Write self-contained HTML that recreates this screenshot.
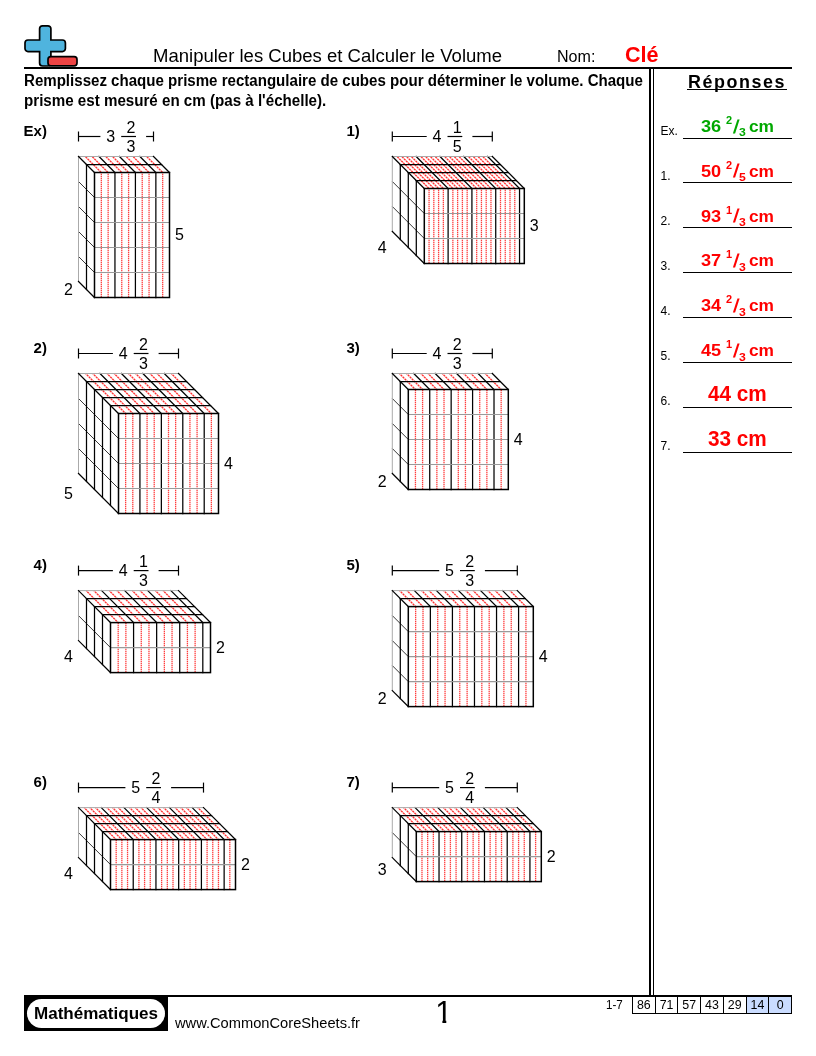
<!DOCTYPE html>
<html lang="fr">
<head>
<meta charset="utf-8">
<title>Manipuler les Cubes et Calculer le Volume</title>
<style>
html,body{margin:0;padding:0;background:#fff;}
body{width:816px;height:1056px;position:relative;overflow:hidden;font-family:"Liberation Sans", sans-serif;color:#000;}
.t{position:absolute;white-space:nowrap;line-height:1;transform-origin:0 0;}
.ln{position:absolute;background:#000;}
svg{position:absolute;left:0;top:0;overflow:visible;}
svg text{font-family:"Liberation Sans", sans-serif;fill:#000;}
.b{stroke:#000;stroke-width:1.25;stroke-linecap:square;}
.o{stroke-width:1.5;}
line.t{stroke:#222;stroke-width:0.9;}
.k{stroke:#aaa;stroke-width:1.0;}
.g{stroke:#9a9a9a;stroke-width:1.15;}
.r{stroke:#ff0000;stroke-width:1.3;stroke-dasharray:1 1;stroke-opacity:1;}
.rd{stroke-width:1.3;stroke-dasharray:2.2 0.63;stroke-opacity:0.8;}
.d{stroke:#000;stroke-width:1.2;}
.fill{fill:#fff;stroke:none;}
text.w{font-size:16.0px;}
text.fr{font-size:16.0px;}
text.s{font-size:16.0px;}

.sc{position:absolute;top:995px;height:19px;box-sizing:border-box;border:1px solid #000;font-size:12.4px;text-align:center;line-height:19.6px;}
</style>
</head>
<body>
<header>
<svg width="100" height="70" viewBox="0 0 100 70" aria-hidden="true"><path d="M42.6 25.8h5.3a3 3 0 0 1 3 3v11.2h11.5a3 3 0 0 1 3 3v5.6a3 3 0 0 1-3 3h-11.5v11.4a3 3 0 0 1-3 3h-5.3a3 3 0 0 1-3-3v-11.4h-11.6a3 3 0 0 1-3-3v-5.6a3 3 0 0 1 3-3h11.6v-11.2a3 3 0 0 1 3-3z" fill="#4fb4de" stroke="#000" stroke-width="1.7"/><rect x="48" y="56.6" width="29" height="9.2" rx="2.8" fill="#ee4444" stroke="#000" stroke-width="1.7"/></svg>
<span id="title" class="t" style="left:153.35px;top:47.3px;font-size:18.67px;font-weight:400;color:#000;transform:scaleX(0.9929);">Manipuler les Cubes et Calculer le Volume</span>
<span id="nom" class="t" style="left:556.9px;top:49px;font-size:16px;font-weight:400;color:#000;transform:scaleX(1.0043);">Nom:</span>
<span id="cle" class="t" style="left:624.7px;top:45.01px;font-size:21.33px;font-weight:700;color:#f00;transform:scaleX(1.0120);">Clé</span>
<div class="ln" style="left:24px;top:67px;width:768px;height:2px"></div>
</header>
<section>
<span id="ins1" class="t" style="left:24px;top:73px;font-size:16px;font-weight:700;color:#000;transform:scaleX(0.9419);">Remplissez chaque prisme rectangulaire de cubes pour déterminer le volume. Chaque</span>
<span id="ins2" class="t" style="left:24px;top:93px;font-size:16px;font-weight:700;color:#000;transform:scaleX(0.9461);">prisme est mesuré en cm (pas à l'échelle).</span>
</section>
<main>
<div class="problem">
<span id="pEx" class="t" style="left:24.2px;top:123.31px;font-size:15px;font-weight:700;color:#000;left:auto;right:769.1px;">Ex)</span>
<svg style="left:56px;top:110px" width="270" height="216" viewBox="56 110 270 216">
<polygon class="fill" points="78.5,156.5 153.5,156.5 169.5,172.5 169.5,297.5 94.5,297.5 78.5,281.5"/>
<line class="r" x1="101.32" y1="172.25" x2="101.32" y2="297.5"/>
<line class="r rd" x1="101.07" y1="172.25" x2="85.32" y2="156.5"/>
<line class="r" x1="108.14" y1="172.25" x2="108.14" y2="297.5"/>
<line class="r rd" x1="107.89" y1="172.25" x2="92.14" y2="156.5"/>
<line class="r" x1="121.77" y1="172.25" x2="121.77" y2="297.5"/>
<line class="r rd" x1="121.52" y1="172.25" x2="105.77" y2="156.5"/>
<line class="r" x1="128.59" y1="172.25" x2="128.59" y2="297.5"/>
<line class="r rd" x1="128.34" y1="172.25" x2="112.59" y2="156.5"/>
<line class="r" x1="142.23" y1="172.25" x2="142.23" y2="297.5"/>
<line class="r rd" x1="141.98" y1="172.25" x2="126.23" y2="156.5"/>
<line class="r" x1="149.05" y1="172.25" x2="149.05" y2="297.5"/>
<line class="r rd" x1="148.8" y1="172.25" x2="133.05" y2="156.5"/>
<line class="r" x1="162.68" y1="172.25" x2="162.68" y2="297.5"/>
<line class="r rd" x1="162.43" y1="172.25" x2="146.68" y2="156.5"/>
<line class="t" x1="78.5" y1="181.5" x2="94.5" y2="197.5"/>
<line class="t" x1="78.5" y1="206.5" x2="94.5" y2="222.5"/>
<line class="t" x1="78.5" y1="231.5" x2="94.5" y2="247.5"/>
<line class="t" x1="78.5" y1="256.5" x2="94.5" y2="272.5"/>
<line class="b" x1="86.5" y1="164.5" x2="86.5" y2="289.5"/>
<line class="b" x1="86.5" y1="164.5" x2="161.5" y2="164.5"/>
<line class="b" x1="114.95" y1="172.5" x2="114.95" y2="297.5"/>
<line class="b" x1="114.95" y1="172.5" x2="98.95" y2="156.5"/>
<line class="b" x1="135.41" y1="172.5" x2="135.41" y2="297.5"/>
<line class="b" x1="135.41" y1="172.5" x2="119.41" y2="156.5"/>
<line class="b" x1="155.86" y1="172.5" x2="155.86" y2="297.5"/>
<line class="b" x1="155.86" y1="172.5" x2="139.86" y2="156.5"/>
<line class="g" x1="94.5" y1="197.5" x2="169.5" y2="197.5"/>
<line class="g" x1="94.5" y1="222.5" x2="169.5" y2="222.5"/>
<line class="g" x1="94.5" y1="247.5" x2="169.5" y2="247.5"/>
<line class="g" x1="94.5" y1="272.5" x2="169.5" y2="272.5"/>
<line class="k" x1="78.5" y1="156.5" x2="153.5" y2="156.5"/>
<line class="k" x1="78.5" y1="156.5" x2="78.5" y2="281.5"/>
<line class="b" x1="78.5" y1="156.5" x2="94.5" y2="172.5"/>
<line class="b" x1="153.5" y1="156.5" x2="169.5" y2="172.5"/>
<line class="b" x1="78.5" y1="281.5" x2="94.5" y2="297.5"/>
<rect class="b o" x="94.5" y="172.5" width="75" height="125" fill="none"/>
<line class="d" x1="78.5" y1="136.5" x2="100.4" y2="136.5"/>
<line class="d" x1="146.1" y1="136.5" x2="153.5" y2="136.5"/>
<line class="d" x1="78.5" y1="131.5" x2="78.5" y2="141.5"/>
<line class="d" x1="153.5" y1="131.5" x2="153.5" y2="141.5"/>
<text class="w" x="106.3" y="141.8">3</text>
<line class="d" x1="121.2" y1="136.5" x2="136" y2="136.5"/>
<text class="fr" text-anchor="middle" x="131" y="132.7">2</text>
<text class="fr" text-anchor="middle" x="131" y="151.8">3</text>
<text class="s" x="174.9" y="240">5</text>
<text class="s" text-anchor="end" x="72.8" y="294.7">2</text>
</svg>
</div>
<div class="problem">
<span id="p1" class="t" style="left:346.5px;top:123.31px;font-size:15px;font-weight:700;color:#000;">1)</span>
<svg style="left:370px;top:110px" width="270" height="216" viewBox="370 110 270 216">
<polygon class="fill" points="392.3,156.5 492.3,156.5 524.3,188.5 524.3,263.5 424.3,263.5 392.3,231.5"/>
<line class="r" x1="429.06" y1="188.25" x2="429.06" y2="263.5"/>
<line class="r rd" x1="428.81" y1="188.25" x2="397.06" y2="156.5"/>
<line class="r" x1="433.82" y1="188.25" x2="433.82" y2="263.5"/>
<line class="r rd" x1="433.57" y1="188.25" x2="401.82" y2="156.5"/>
<line class="r" x1="438.59" y1="188.25" x2="438.59" y2="263.5"/>
<line class="r rd" x1="438.34" y1="188.25" x2="406.59" y2="156.5"/>
<line class="r" x1="443.35" y1="188.25" x2="443.35" y2="263.5"/>
<line class="r rd" x1="443.1" y1="188.25" x2="411.35" y2="156.5"/>
<line class="r" x1="452.87" y1="188.25" x2="452.87" y2="263.5"/>
<line class="r rd" x1="452.62" y1="188.25" x2="420.87" y2="156.5"/>
<line class="r" x1="457.63" y1="188.25" x2="457.63" y2="263.5"/>
<line class="r rd" x1="457.38" y1="188.25" x2="425.63" y2="156.5"/>
<line class="r" x1="462.4" y1="188.25" x2="462.4" y2="263.5"/>
<line class="r rd" x1="462.15" y1="188.25" x2="430.4" y2="156.5"/>
<line class="r" x1="467.16" y1="188.25" x2="467.16" y2="263.5"/>
<line class="r rd" x1="466.91" y1="188.25" x2="435.16" y2="156.5"/>
<line class="r" x1="476.68" y1="188.25" x2="476.68" y2="263.5"/>
<line class="r rd" x1="476.43" y1="188.25" x2="444.68" y2="156.5"/>
<line class="r" x1="481.44" y1="188.25" x2="481.44" y2="263.5"/>
<line class="r rd" x1="481.19" y1="188.25" x2="449.44" y2="156.5"/>
<line class="r" x1="486.2" y1="188.25" x2="486.2" y2="263.5"/>
<line class="r rd" x1="485.95" y1="188.25" x2="454.2" y2="156.5"/>
<line class="r" x1="490.97" y1="188.25" x2="490.97" y2="263.5"/>
<line class="r rd" x1="490.72" y1="188.25" x2="458.97" y2="156.5"/>
<line class="r" x1="500.49" y1="188.25" x2="500.49" y2="263.5"/>
<line class="r rd" x1="500.24" y1="188.25" x2="468.49" y2="156.5"/>
<line class="r" x1="505.25" y1="188.25" x2="505.25" y2="263.5"/>
<line class="r rd" x1="505" y1="188.25" x2="473.25" y2="156.5"/>
<line class="r" x1="510.01" y1="188.25" x2="510.01" y2="263.5"/>
<line class="r rd" x1="509.76" y1="188.25" x2="478.01" y2="156.5"/>
<line class="r" x1="514.78" y1="188.25" x2="514.78" y2="263.5"/>
<line class="r rd" x1="514.53" y1="188.25" x2="482.78" y2="156.5"/>
<line class="t" x1="392.3" y1="181.5" x2="424.3" y2="213.5"/>
<line class="t" x1="392.3" y1="206.5" x2="424.3" y2="238.5"/>
<line class="b" x1="400.3" y1="164.5" x2="400.3" y2="239.5"/>
<line class="b" x1="400.3" y1="164.5" x2="500.3" y2="164.5"/>
<line class="b" x1="408.3" y1="172.5" x2="408.3" y2="247.5"/>
<line class="b" x1="408.3" y1="172.5" x2="508.3" y2="172.5"/>
<line class="b" x1="416.3" y1="180.5" x2="416.3" y2="255.5"/>
<line class="b" x1="416.3" y1="180.5" x2="516.3" y2="180.5"/>
<line class="b" x1="448.11" y1="188.5" x2="448.11" y2="263.5"/>
<line class="b" x1="448.11" y1="188.5" x2="416.11" y2="156.5"/>
<line class="b" x1="471.92" y1="188.5" x2="471.92" y2="263.5"/>
<line class="b" x1="471.92" y1="188.5" x2="439.92" y2="156.5"/>
<line class="b" x1="495.73" y1="188.5" x2="495.73" y2="263.5"/>
<line class="b" x1="495.73" y1="188.5" x2="463.73" y2="156.5"/>
<line class="b" x1="519.54" y1="188.5" x2="519.54" y2="263.5"/>
<line class="b" x1="519.54" y1="188.5" x2="487.54" y2="156.5"/>
<line class="g" x1="424.3" y1="213.5" x2="524.3" y2="213.5"/>
<line class="g" x1="424.3" y1="238.5" x2="524.3" y2="238.5"/>
<line class="k" x1="392.3" y1="156.5" x2="492.3" y2="156.5"/>
<line class="k" x1="392.3" y1="156.5" x2="392.3" y2="231.5"/>
<line class="b" x1="392.3" y1="156.5" x2="424.3" y2="188.5"/>
<line class="b" x1="492.3" y1="156.5" x2="524.3" y2="188.5"/>
<line class="b" x1="392.3" y1="231.5" x2="424.3" y2="263.5"/>
<rect class="b o" x="424.3" y="188.5" width="100" height="75" fill="none"/>
<line class="d" x1="392.3" y1="136.5" x2="426.7" y2="136.5"/>
<line class="d" x1="472.4" y1="136.5" x2="492.3" y2="136.5"/>
<line class="d" x1="392.3" y1="131.5" x2="392.3" y2="141.5"/>
<line class="d" x1="492.3" y1="131.5" x2="492.3" y2="141.5"/>
<text class="w" x="432.6" y="141.8">4</text>
<line class="d" x1="447.5" y1="136.5" x2="462.3" y2="136.5"/>
<text class="fr" text-anchor="middle" x="457.3" y="132.7">1</text>
<text class="fr" text-anchor="middle" x="457.3" y="151.8">5</text>
<text class="s" x="529.7" y="231">3</text>
<text class="s" text-anchor="end" x="386.6" y="252.7">4</text>
</svg>
</div>
<div class="problem">
<span id="p2" class="t" style="left:24.2px;top:340.31px;font-size:15px;font-weight:700;color:#000;left:auto;right:769.1px;">2)</span>
<svg style="left:56px;top:327px" width="270" height="216" viewBox="56 327 270 216">
<polygon class="fill" points="78.5,373.5 178.5,373.5 218.5,413.5 218.5,513.5 118.5,513.5 78.5,473.5"/>
<line class="r" x1="125.64" y1="414.25" x2="125.64" y2="513.5"/>
<line class="r rd" x1="126.39" y1="414.25" x2="85.64" y2="373.5"/>
<line class="r" x1="132.79" y1="414.25" x2="132.79" y2="513.5"/>
<line class="r rd" x1="133.54" y1="414.25" x2="92.79" y2="373.5"/>
<line class="r" x1="147.07" y1="414.25" x2="147.07" y2="513.5"/>
<line class="r rd" x1="147.82" y1="414.25" x2="107.07" y2="373.5"/>
<line class="r" x1="154.21" y1="414.25" x2="154.21" y2="513.5"/>
<line class="r rd" x1="154.96" y1="414.25" x2="114.21" y2="373.5"/>
<line class="r" x1="168.5" y1="414.25" x2="168.5" y2="513.5"/>
<line class="r rd" x1="169.25" y1="414.25" x2="128.5" y2="373.5"/>
<line class="r" x1="175.64" y1="414.25" x2="175.64" y2="513.5"/>
<line class="r rd" x1="176.39" y1="414.25" x2="135.64" y2="373.5"/>
<line class="r" x1="189.93" y1="414.25" x2="189.93" y2="513.5"/>
<line class="r rd" x1="190.68" y1="414.25" x2="149.93" y2="373.5"/>
<line class="r" x1="197.07" y1="414.25" x2="197.07" y2="513.5"/>
<line class="r rd" x1="197.82" y1="414.25" x2="157.07" y2="373.5"/>
<line class="r" x1="211.36" y1="414.25" x2="211.36" y2="513.5"/>
<line class="r rd" x1="212.11" y1="414.25" x2="171.36" y2="373.5"/>
<line class="t" x1="78.5" y1="398.5" x2="118.5" y2="438.5"/>
<line class="t" x1="78.5" y1="423.5" x2="118.5" y2="463.5"/>
<line class="t" x1="78.5" y1="448.5" x2="118.5" y2="488.5"/>
<line class="b" x1="86.5" y1="381.5" x2="86.5" y2="481.5"/>
<line class="b" x1="86.5" y1="381.5" x2="186.5" y2="381.5"/>
<line class="b" x1="94.5" y1="389.5" x2="94.5" y2="489.5"/>
<line class="b" x1="94.5" y1="389.5" x2="194.5" y2="389.5"/>
<line class="b" x1="102.5" y1="397.5" x2="102.5" y2="497.5"/>
<line class="b" x1="102.5" y1="397.5" x2="202.5" y2="397.5"/>
<line class="b" x1="110.5" y1="405.5" x2="110.5" y2="505.5"/>
<line class="b" x1="110.5" y1="405.5" x2="210.5" y2="405.5"/>
<line class="b" x1="139.93" y1="413.5" x2="139.93" y2="513.5"/>
<line class="b" x1="139.93" y1="413.5" x2="99.93" y2="373.5"/>
<line class="b" x1="161.36" y1="413.5" x2="161.36" y2="513.5"/>
<line class="b" x1="161.36" y1="413.5" x2="121.36" y2="373.5"/>
<line class="b" x1="182.79" y1="413.5" x2="182.79" y2="513.5"/>
<line class="b" x1="182.79" y1="413.5" x2="142.79" y2="373.5"/>
<line class="b" x1="204.21" y1="413.5" x2="204.21" y2="513.5"/>
<line class="b" x1="204.21" y1="413.5" x2="164.21" y2="373.5"/>
<line class="g" x1="118.5" y1="438.5" x2="218.5" y2="438.5"/>
<line class="g" x1="118.5" y1="463.5" x2="218.5" y2="463.5"/>
<line class="g" x1="118.5" y1="488.5" x2="218.5" y2="488.5"/>
<line class="k" x1="78.5" y1="373.5" x2="178.5" y2="373.5"/>
<line class="k" x1="78.5" y1="373.5" x2="78.5" y2="473.5"/>
<line class="b" x1="78.5" y1="373.5" x2="118.5" y2="413.5"/>
<line class="b" x1="178.5" y1="373.5" x2="218.5" y2="413.5"/>
<line class="b" x1="78.5" y1="473.5" x2="118.5" y2="513.5"/>
<rect class="b o" x="118.5" y="413.5" width="100" height="100" fill="none"/>
<line class="d" x1="78.5" y1="353.5" x2="112.9" y2="353.5"/>
<line class="d" x1="158.6" y1="353.5" x2="178.5" y2="353.5"/>
<line class="d" x1="78.5" y1="348.5" x2="78.5" y2="358.5"/>
<line class="d" x1="178.5" y1="348.5" x2="178.5" y2="358.5"/>
<text class="w" x="118.8" y="358.8">4</text>
<line class="d" x1="133.7" y1="353.5" x2="148.5" y2="353.5"/>
<text class="fr" text-anchor="middle" x="143.5" y="349.7">2</text>
<text class="fr" text-anchor="middle" x="143.5" y="368.8">3</text>
<text class="s" x="223.9" y="468.5">4</text>
<text class="s" text-anchor="end" x="72.8" y="498.7">5</text>
</svg>
</div>
<div class="problem">
<span id="p3" class="t" style="left:346.5px;top:340.31px;font-size:15px;font-weight:700;color:#000;">3)</span>
<svg style="left:370px;top:327px" width="270" height="216" viewBox="370 327 270 216">
<polygon class="fill" points="392.3,373.5 492.3,373.5 508.3,389.5 508.3,489.5 408.3,489.5 392.3,473.5"/>
<line class="r" x1="415.44" y1="390.25" x2="415.44" y2="489.5"/>
<line class="r rd" x1="416.19" y1="390.25" x2="399.44" y2="373.5"/>
<line class="r" x1="422.59" y1="390.25" x2="422.59" y2="489.5"/>
<line class="r rd" x1="423.34" y1="390.25" x2="406.59" y2="373.5"/>
<line class="r" x1="436.87" y1="390.25" x2="436.87" y2="489.5"/>
<line class="r rd" x1="437.62" y1="390.25" x2="420.87" y2="373.5"/>
<line class="r" x1="444.01" y1="390.25" x2="444.01" y2="489.5"/>
<line class="r rd" x1="444.76" y1="390.25" x2="428.01" y2="373.5"/>
<line class="r" x1="458.3" y1="390.25" x2="458.3" y2="489.5"/>
<line class="r rd" x1="459.05" y1="390.25" x2="442.3" y2="373.5"/>
<line class="r" x1="465.44" y1="390.25" x2="465.44" y2="489.5"/>
<line class="r rd" x1="466.19" y1="390.25" x2="449.44" y2="373.5"/>
<line class="r" x1="479.73" y1="390.25" x2="479.73" y2="489.5"/>
<line class="r rd" x1="480.48" y1="390.25" x2="463.73" y2="373.5"/>
<line class="r" x1="486.87" y1="390.25" x2="486.87" y2="489.5"/>
<line class="r rd" x1="487.62" y1="390.25" x2="470.87" y2="373.5"/>
<line class="r" x1="501.16" y1="390.25" x2="501.16" y2="489.5"/>
<line class="r rd" x1="501.91" y1="390.25" x2="485.16" y2="373.5"/>
<line class="t" x1="392.3" y1="398.5" x2="408.3" y2="414.5"/>
<line class="t" x1="392.3" y1="423.5" x2="408.3" y2="439.5"/>
<line class="t" x1="392.3" y1="448.5" x2="408.3" y2="464.5"/>
<line class="b" x1="400.3" y1="381.5" x2="400.3" y2="481.5"/>
<line class="b" x1="400.3" y1="381.5" x2="500.3" y2="381.5"/>
<line class="b" x1="429.73" y1="389.5" x2="429.73" y2="489.5"/>
<line class="b" x1="429.73" y1="389.5" x2="413.73" y2="373.5"/>
<line class="b" x1="451.16" y1="389.5" x2="451.16" y2="489.5"/>
<line class="b" x1="451.16" y1="389.5" x2="435.16" y2="373.5"/>
<line class="b" x1="472.59" y1="389.5" x2="472.59" y2="489.5"/>
<line class="b" x1="472.59" y1="389.5" x2="456.59" y2="373.5"/>
<line class="b" x1="494.01" y1="389.5" x2="494.01" y2="489.5"/>
<line class="b" x1="494.01" y1="389.5" x2="478.01" y2="373.5"/>
<line class="g" x1="408.3" y1="414.5" x2="508.3" y2="414.5"/>
<line class="g" x1="408.3" y1="439.5" x2="508.3" y2="439.5"/>
<line class="g" x1="408.3" y1="464.5" x2="508.3" y2="464.5"/>
<line class="k" x1="392.3" y1="373.5" x2="492.3" y2="373.5"/>
<line class="k" x1="392.3" y1="373.5" x2="392.3" y2="473.5"/>
<line class="b" x1="392.3" y1="373.5" x2="408.3" y2="389.5"/>
<line class="b" x1="492.3" y1="373.5" x2="508.3" y2="389.5"/>
<line class="b" x1="392.3" y1="473.5" x2="408.3" y2="489.5"/>
<rect class="b o" x="408.3" y="389.5" width="100" height="100" fill="none"/>
<line class="d" x1="392.3" y1="353.5" x2="426.7" y2="353.5"/>
<line class="d" x1="472.4" y1="353.5" x2="492.3" y2="353.5"/>
<line class="d" x1="392.3" y1="348.5" x2="392.3" y2="358.5"/>
<line class="d" x1="492.3" y1="348.5" x2="492.3" y2="358.5"/>
<text class="w" x="432.6" y="358.8">4</text>
<line class="d" x1="447.5" y1="353.5" x2="462.3" y2="353.5"/>
<text class="fr" text-anchor="middle" x="457.3" y="349.7">2</text>
<text class="fr" text-anchor="middle" x="457.3" y="368.8">3</text>
<text class="s" x="513.7" y="444.5">4</text>
<text class="s" text-anchor="end" x="386.6" y="486.7">2</text>
</svg>
</div>
<div class="problem">
<span id="p4" class="t" style="left:24.2px;top:557.41px;font-size:15px;font-weight:700;color:#000;left:auto;right:769.1px;">4)</span>
<svg style="left:56px;top:544px" width="270" height="216" viewBox="56 544 270 216">
<polygon class="fill" points="78.5,590.6 178.5,590.6 210.5,622.6 210.5,672.6 110.5,672.6 78.5,640.6"/>
<line class="r" x1="118.19" y1="623.25" x2="118.19" y2="672.6"/>
<line class="r rd" x1="118.84" y1="623.25" x2="86.19" y2="590.6"/>
<line class="r" x1="125.88" y1="623.25" x2="125.88" y2="672.6"/>
<line class="r rd" x1="126.53" y1="623.25" x2="93.88" y2="590.6"/>
<line class="r" x1="141.27" y1="623.25" x2="141.27" y2="672.6"/>
<line class="r rd" x1="141.92" y1="623.25" x2="109.27" y2="590.6"/>
<line class="r" x1="148.96" y1="623.25" x2="148.96" y2="672.6"/>
<line class="r rd" x1="149.61" y1="623.25" x2="116.96" y2="590.6"/>
<line class="r" x1="164.35" y1="623.25" x2="164.35" y2="672.6"/>
<line class="r rd" x1="165" y1="623.25" x2="132.35" y2="590.6"/>
<line class="r" x1="172.04" y1="623.25" x2="172.04" y2="672.6"/>
<line class="r rd" x1="172.69" y1="623.25" x2="140.04" y2="590.6"/>
<line class="r" x1="187.42" y1="623.25" x2="187.42" y2="672.6"/>
<line class="r rd" x1="188.07" y1="623.25" x2="155.42" y2="590.6"/>
<line class="r" x1="195.12" y1="623.25" x2="195.12" y2="672.6"/>
<line class="r rd" x1="195.77" y1="623.25" x2="163.12" y2="590.6"/>
<line class="t" x1="78.5" y1="615.6" x2="110.5" y2="647.6"/>
<line class="b" x1="86.5" y1="598.6" x2="86.5" y2="648.6"/>
<line class="b" x1="86.5" y1="598.6" x2="186.5" y2="598.6"/>
<line class="b" x1="94.5" y1="606.6" x2="94.5" y2="656.6"/>
<line class="b" x1="94.5" y1="606.6" x2="194.5" y2="606.6"/>
<line class="b" x1="102.5" y1="614.6" x2="102.5" y2="664.6"/>
<line class="b" x1="102.5" y1="614.6" x2="202.5" y2="614.6"/>
<line class="b" x1="133.58" y1="622.6" x2="133.58" y2="672.6"/>
<line class="b" x1="133.58" y1="622.6" x2="101.58" y2="590.6"/>
<line class="b" x1="156.65" y1="622.6" x2="156.65" y2="672.6"/>
<line class="b" x1="156.65" y1="622.6" x2="124.65" y2="590.6"/>
<line class="b" x1="179.73" y1="622.6" x2="179.73" y2="672.6"/>
<line class="b" x1="179.73" y1="622.6" x2="147.73" y2="590.6"/>
<line class="b" x1="202.81" y1="622.6" x2="202.81" y2="672.6"/>
<line class="b" x1="202.81" y1="622.6" x2="170.81" y2="590.6"/>
<line class="g" x1="110.5" y1="647.6" x2="210.5" y2="647.6"/>
<line class="k" x1="78.5" y1="590.6" x2="178.5" y2="590.6"/>
<line class="k" x1="78.5" y1="590.6" x2="78.5" y2="640.6"/>
<line class="b" x1="78.5" y1="590.6" x2="110.5" y2="622.6"/>
<line class="b" x1="178.5" y1="590.6" x2="210.5" y2="622.6"/>
<line class="b" x1="78.5" y1="640.6" x2="110.5" y2="672.6"/>
<rect class="b o" x="110.5" y="622.6" width="100" height="50" fill="none"/>
<line class="d" x1="78.5" y1="570.6" x2="112.9" y2="570.6"/>
<line class="d" x1="158.6" y1="570.6" x2="178.5" y2="570.6"/>
<line class="d" x1="78.5" y1="565.6" x2="78.5" y2="575.6"/>
<line class="d" x1="178.5" y1="565.6" x2="178.5" y2="575.6"/>
<text class="w" x="118.8" y="575.9">4</text>
<line class="d" x1="133.7" y1="570.6" x2="148.5" y2="570.6"/>
<text class="fr" text-anchor="middle" x="143.5" y="566.8">1</text>
<text class="fr" text-anchor="middle" x="143.5" y="585.9">3</text>
<text class="s" x="215.9" y="652.6">2</text>
<text class="s" text-anchor="end" x="72.8" y="661.8">4</text>
</svg>
</div>
<div class="problem">
<span id="p5" class="t" style="left:346.5px;top:557.41px;font-size:15px;font-weight:700;color:#000;">5)</span>
<svg style="left:370px;top:544px" width="270" height="216" viewBox="370 544 270 216">
<polygon class="fill" points="392.3,590.6 517.3,590.6 533.3,606.6 533.3,706.6 408.3,706.6 392.3,690.6"/>
<line class="r" x1="415.65" y1="607.25" x2="415.65" y2="706.6"/>
<line class="r rd" x1="416.3" y1="607.25" x2="399.65" y2="590.6"/>
<line class="r" x1="423.01" y1="607.25" x2="423.01" y2="706.6"/>
<line class="r rd" x1="423.66" y1="607.25" x2="407.01" y2="590.6"/>
<line class="r" x1="437.71" y1="607.25" x2="437.71" y2="706.6"/>
<line class="r rd" x1="438.36" y1="607.25" x2="421.71" y2="590.6"/>
<line class="r" x1="445.06" y1="607.25" x2="445.06" y2="706.6"/>
<line class="r rd" x1="445.71" y1="607.25" x2="429.06" y2="590.6"/>
<line class="r" x1="459.77" y1="607.25" x2="459.77" y2="706.6"/>
<line class="r rd" x1="460.42" y1="607.25" x2="443.77" y2="590.6"/>
<line class="r" x1="467.12" y1="607.25" x2="467.12" y2="706.6"/>
<line class="r rd" x1="467.77" y1="607.25" x2="451.12" y2="590.6"/>
<line class="r" x1="481.83" y1="607.25" x2="481.83" y2="706.6"/>
<line class="r rd" x1="482.48" y1="607.25" x2="465.83" y2="590.6"/>
<line class="r" x1="489.18" y1="607.25" x2="489.18" y2="706.6"/>
<line class="r rd" x1="489.83" y1="607.25" x2="473.18" y2="590.6"/>
<line class="r" x1="503.89" y1="607.25" x2="503.89" y2="706.6"/>
<line class="r rd" x1="504.54" y1="607.25" x2="487.89" y2="590.6"/>
<line class="r" x1="511.24" y1="607.25" x2="511.24" y2="706.6"/>
<line class="r rd" x1="511.89" y1="607.25" x2="495.24" y2="590.6"/>
<line class="r" x1="525.95" y1="607.25" x2="525.95" y2="706.6"/>
<line class="r rd" x1="526.6" y1="607.25" x2="509.95" y2="590.6"/>
<line class="t" x1="392.3" y1="615.6" x2="408.3" y2="631.6"/>
<line class="t" x1="392.3" y1="640.6" x2="408.3" y2="656.6"/>
<line class="t" x1="392.3" y1="665.6" x2="408.3" y2="681.6"/>
<line class="b" x1="400.3" y1="598.6" x2="400.3" y2="698.6"/>
<line class="b" x1="400.3" y1="598.6" x2="525.3" y2="598.6"/>
<line class="b" x1="430.36" y1="606.6" x2="430.36" y2="706.6"/>
<line class="b" x1="430.36" y1="606.6" x2="414.36" y2="590.6"/>
<line class="b" x1="452.42" y1="606.6" x2="452.42" y2="706.6"/>
<line class="b" x1="452.42" y1="606.6" x2="436.42" y2="590.6"/>
<line class="b" x1="474.48" y1="606.6" x2="474.48" y2="706.6"/>
<line class="b" x1="474.48" y1="606.6" x2="458.48" y2="590.6"/>
<line class="b" x1="496.54" y1="606.6" x2="496.54" y2="706.6"/>
<line class="b" x1="496.54" y1="606.6" x2="480.54" y2="590.6"/>
<line class="b" x1="518.59" y1="606.6" x2="518.59" y2="706.6"/>
<line class="b" x1="518.59" y1="606.6" x2="502.59" y2="590.6"/>
<line class="g" x1="408.3" y1="631.6" x2="533.3" y2="631.6"/>
<line class="g" x1="408.3" y1="656.6" x2="533.3" y2="656.6"/>
<line class="g" x1="408.3" y1="681.6" x2="533.3" y2="681.6"/>
<line class="k" x1="392.3" y1="590.6" x2="517.3" y2="590.6"/>
<line class="k" x1="392.3" y1="590.6" x2="392.3" y2="690.6"/>
<line class="b" x1="392.3" y1="590.6" x2="408.3" y2="606.6"/>
<line class="b" x1="517.3" y1="590.6" x2="533.3" y2="606.6"/>
<line class="b" x1="392.3" y1="690.6" x2="408.3" y2="706.6"/>
<rect class="b o" x="408.3" y="606.6" width="125" height="100" fill="none"/>
<line class="d" x1="392.3" y1="570.6" x2="439.2" y2="570.6"/>
<line class="d" x1="484.9" y1="570.6" x2="517.3" y2="570.6"/>
<line class="d" x1="392.3" y1="565.6" x2="392.3" y2="575.6"/>
<line class="d" x1="517.3" y1="565.6" x2="517.3" y2="575.6"/>
<text class="w" x="445.1" y="575.9">5</text>
<line class="d" x1="460" y1="570.6" x2="474.8" y2="570.6"/>
<text class="fr" text-anchor="middle" x="469.8" y="566.8">2</text>
<text class="fr" text-anchor="middle" x="469.8" y="585.9">3</text>
<text class="s" x="538.7" y="661.6">4</text>
<text class="s" text-anchor="end" x="386.6" y="703.8">2</text>
</svg>
</div>
<div class="problem">
<span id="p6" class="t" style="left:24.2px;top:774.41px;font-size:15px;font-weight:700;color:#000;left:auto;right:769.1px;">6)</span>
<svg style="left:56px;top:761px" width="270" height="216" viewBox="56 761 270 216">
<polygon class="fill" points="78.5,807.6 203.5,807.6 235.5,839.6 235.5,889.6 110.5,889.6 78.5,857.6"/>
<line class="r" x1="116.18" y1="840.25" x2="116.18" y2="889.6"/>
<line class="r rd" x1="116.83" y1="840.25" x2="84.18" y2="807.6"/>
<line class="r" x1="121.86" y1="840.25" x2="121.86" y2="889.6"/>
<line class="r rd" x1="122.51" y1="840.25" x2="89.86" y2="807.6"/>
<line class="r" x1="127.55" y1="840.25" x2="127.55" y2="889.6"/>
<line class="r rd" x1="128.2" y1="840.25" x2="95.55" y2="807.6"/>
<line class="r" x1="138.91" y1="840.25" x2="138.91" y2="889.6"/>
<line class="r rd" x1="139.56" y1="840.25" x2="106.91" y2="807.6"/>
<line class="r" x1="144.59" y1="840.25" x2="144.59" y2="889.6"/>
<line class="r rd" x1="145.24" y1="840.25" x2="112.59" y2="807.6"/>
<line class="r" x1="150.27" y1="840.25" x2="150.27" y2="889.6"/>
<line class="r rd" x1="150.92" y1="840.25" x2="118.27" y2="807.6"/>
<line class="r" x1="161.64" y1="840.25" x2="161.64" y2="889.6"/>
<line class="r rd" x1="162.29" y1="840.25" x2="129.64" y2="807.6"/>
<line class="r" x1="167.32" y1="840.25" x2="167.32" y2="889.6"/>
<line class="r rd" x1="167.97" y1="840.25" x2="135.32" y2="807.6"/>
<line class="r" x1="173" y1="840.25" x2="173" y2="889.6"/>
<line class="r rd" x1="173.65" y1="840.25" x2="141" y2="807.6"/>
<line class="r" x1="184.36" y1="840.25" x2="184.36" y2="889.6"/>
<line class="r rd" x1="185.01" y1="840.25" x2="152.36" y2="807.6"/>
<line class="r" x1="190.05" y1="840.25" x2="190.05" y2="889.6"/>
<line class="r rd" x1="190.7" y1="840.25" x2="158.05" y2="807.6"/>
<line class="r" x1="195.73" y1="840.25" x2="195.73" y2="889.6"/>
<line class="r rd" x1="196.38" y1="840.25" x2="163.73" y2="807.6"/>
<line class="r" x1="207.09" y1="840.25" x2="207.09" y2="889.6"/>
<line class="r rd" x1="207.74" y1="840.25" x2="175.09" y2="807.6"/>
<line class="r" x1="212.77" y1="840.25" x2="212.77" y2="889.6"/>
<line class="r rd" x1="213.42" y1="840.25" x2="180.77" y2="807.6"/>
<line class="r" x1="218.45" y1="840.25" x2="218.45" y2="889.6"/>
<line class="r rd" x1="219.1" y1="840.25" x2="186.45" y2="807.6"/>
<line class="r" x1="229.82" y1="840.25" x2="229.82" y2="889.6"/>
<line class="r rd" x1="230.47" y1="840.25" x2="197.82" y2="807.6"/>
<line class="t" x1="78.5" y1="832.6" x2="110.5" y2="864.6"/>
<line class="b" x1="86.5" y1="815.6" x2="86.5" y2="865.6"/>
<line class="b" x1="86.5" y1="815.6" x2="211.5" y2="815.6"/>
<line class="b" x1="94.5" y1="823.6" x2="94.5" y2="873.6"/>
<line class="b" x1="94.5" y1="823.6" x2="219.5" y2="823.6"/>
<line class="b" x1="102.5" y1="831.6" x2="102.5" y2="881.6"/>
<line class="b" x1="102.5" y1="831.6" x2="227.5" y2="831.6"/>
<line class="b" x1="133.23" y1="839.6" x2="133.23" y2="889.6"/>
<line class="b" x1="133.23" y1="839.6" x2="101.23" y2="807.6"/>
<line class="b" x1="155.95" y1="839.6" x2="155.95" y2="889.6"/>
<line class="b" x1="155.95" y1="839.6" x2="123.95" y2="807.6"/>
<line class="b" x1="178.68" y1="839.6" x2="178.68" y2="889.6"/>
<line class="b" x1="178.68" y1="839.6" x2="146.68" y2="807.6"/>
<line class="b" x1="201.41" y1="839.6" x2="201.41" y2="889.6"/>
<line class="b" x1="201.41" y1="839.6" x2="169.41" y2="807.6"/>
<line class="b" x1="224.14" y1="839.6" x2="224.14" y2="889.6"/>
<line class="b" x1="224.14" y1="839.6" x2="192.14" y2="807.6"/>
<line class="g" x1="110.5" y1="864.6" x2="235.5" y2="864.6"/>
<line class="k" x1="78.5" y1="807.6" x2="203.5" y2="807.6"/>
<line class="k" x1="78.5" y1="807.6" x2="78.5" y2="857.6"/>
<line class="b" x1="78.5" y1="807.6" x2="110.5" y2="839.6"/>
<line class="b" x1="203.5" y1="807.6" x2="235.5" y2="839.6"/>
<line class="b" x1="78.5" y1="857.6" x2="110.5" y2="889.6"/>
<rect class="b o" x="110.5" y="839.6" width="125" height="50" fill="none"/>
<line class="d" x1="78.5" y1="787.6" x2="125.4" y2="787.6"/>
<line class="d" x1="171.1" y1="787.6" x2="203.5" y2="787.6"/>
<line class="d" x1="78.5" y1="782.6" x2="78.5" y2="792.6"/>
<line class="d" x1="203.5" y1="782.6" x2="203.5" y2="792.6"/>
<text class="w" x="131.3" y="792.9">5</text>
<line class="d" x1="146.2" y1="787.6" x2="161" y2="787.6"/>
<text class="fr" text-anchor="middle" x="156" y="783.8">2</text>
<text class="fr" text-anchor="middle" x="156" y="802.9">4</text>
<text class="s" x="240.9" y="869.6">2</text>
<text class="s" text-anchor="end" x="72.8" y="878.8">4</text>
</svg>
</div>
<div class="problem">
<span id="p7" class="t" style="left:346.5px;top:774.41px;font-size:15px;font-weight:700;color:#000;">7)</span>
<svg style="left:370px;top:761px" width="270" height="216" viewBox="370 761 270 216">
<polygon class="fill" points="392.3,807.6 517.3,807.6 541.3,831.6 541.3,881.6 416.3,881.6 392.3,857.6"/>
<line class="r" x1="421.98" y1="832.25" x2="421.98" y2="881.6"/>
<line class="r rd" x1="422.63" y1="832.25" x2="397.98" y2="807.6"/>
<line class="r" x1="427.66" y1="832.25" x2="427.66" y2="881.6"/>
<line class="r rd" x1="428.31" y1="832.25" x2="403.66" y2="807.6"/>
<line class="r" x1="433.35" y1="832.25" x2="433.35" y2="881.6"/>
<line class="r rd" x1="434" y1="832.25" x2="409.35" y2="807.6"/>
<line class="r" x1="444.71" y1="832.25" x2="444.71" y2="881.6"/>
<line class="r rd" x1="445.36" y1="832.25" x2="420.71" y2="807.6"/>
<line class="r" x1="450.39" y1="832.25" x2="450.39" y2="881.6"/>
<line class="r rd" x1="451.04" y1="832.25" x2="426.39" y2="807.6"/>
<line class="r" x1="456.07" y1="832.25" x2="456.07" y2="881.6"/>
<line class="r rd" x1="456.72" y1="832.25" x2="432.07" y2="807.6"/>
<line class="r" x1="467.44" y1="832.25" x2="467.44" y2="881.6"/>
<line class="r rd" x1="468.09" y1="832.25" x2="443.44" y2="807.6"/>
<line class="r" x1="473.12" y1="832.25" x2="473.12" y2="881.6"/>
<line class="r rd" x1="473.77" y1="832.25" x2="449.12" y2="807.6"/>
<line class="r" x1="478.8" y1="832.25" x2="478.8" y2="881.6"/>
<line class="r rd" x1="479.45" y1="832.25" x2="454.8" y2="807.6"/>
<line class="r" x1="490.16" y1="832.25" x2="490.16" y2="881.6"/>
<line class="r rd" x1="490.81" y1="832.25" x2="466.16" y2="807.6"/>
<line class="r" x1="495.85" y1="832.25" x2="495.85" y2="881.6"/>
<line class="r rd" x1="496.5" y1="832.25" x2="471.85" y2="807.6"/>
<line class="r" x1="501.53" y1="832.25" x2="501.53" y2="881.6"/>
<line class="r rd" x1="502.18" y1="832.25" x2="477.53" y2="807.6"/>
<line class="r" x1="512.89" y1="832.25" x2="512.89" y2="881.6"/>
<line class="r rd" x1="513.54" y1="832.25" x2="488.89" y2="807.6"/>
<line class="r" x1="518.57" y1="832.25" x2="518.57" y2="881.6"/>
<line class="r rd" x1="519.22" y1="832.25" x2="494.57" y2="807.6"/>
<line class="r" x1="524.25" y1="832.25" x2="524.25" y2="881.6"/>
<line class="r rd" x1="524.9" y1="832.25" x2="500.25" y2="807.6"/>
<line class="r" x1="535.62" y1="832.25" x2="535.62" y2="881.6"/>
<line class="r rd" x1="536.27" y1="832.25" x2="511.62" y2="807.6"/>
<line class="t" x1="392.3" y1="832.6" x2="416.3" y2="856.6"/>
<line class="b" x1="400.3" y1="815.6" x2="400.3" y2="865.6"/>
<line class="b" x1="400.3" y1="815.6" x2="525.3" y2="815.6"/>
<line class="b" x1="408.3" y1="823.6" x2="408.3" y2="873.6"/>
<line class="b" x1="408.3" y1="823.6" x2="533.3" y2="823.6"/>
<line class="b" x1="439.03" y1="831.6" x2="439.03" y2="881.6"/>
<line class="b" x1="439.03" y1="831.6" x2="415.03" y2="807.6"/>
<line class="b" x1="461.75" y1="831.6" x2="461.75" y2="881.6"/>
<line class="b" x1="461.75" y1="831.6" x2="437.75" y2="807.6"/>
<line class="b" x1="484.48" y1="831.6" x2="484.48" y2="881.6"/>
<line class="b" x1="484.48" y1="831.6" x2="460.48" y2="807.6"/>
<line class="b" x1="507.21" y1="831.6" x2="507.21" y2="881.6"/>
<line class="b" x1="507.21" y1="831.6" x2="483.21" y2="807.6"/>
<line class="b" x1="529.94" y1="831.6" x2="529.94" y2="881.6"/>
<line class="b" x1="529.94" y1="831.6" x2="505.94" y2="807.6"/>
<line class="g" x1="416.3" y1="856.6" x2="541.3" y2="856.6"/>
<line class="k" x1="392.3" y1="807.6" x2="517.3" y2="807.6"/>
<line class="k" x1="392.3" y1="807.6" x2="392.3" y2="857.6"/>
<line class="b" x1="392.3" y1="807.6" x2="416.3" y2="831.6"/>
<line class="b" x1="517.3" y1="807.6" x2="541.3" y2="831.6"/>
<line class="b" x1="392.3" y1="857.6" x2="416.3" y2="881.6"/>
<rect class="b o" x="416.3" y="831.6" width="125" height="50" fill="none"/>
<line class="d" x1="392.3" y1="787.6" x2="439.2" y2="787.6"/>
<line class="d" x1="484.9" y1="787.6" x2="517.3" y2="787.6"/>
<line class="d" x1="392.3" y1="782.6" x2="392.3" y2="792.6"/>
<line class="d" x1="517.3" y1="782.6" x2="517.3" y2="792.6"/>
<text class="w" x="445.1" y="792.9">5</text>
<line class="d" x1="460" y1="787.6" x2="474.8" y2="787.6"/>
<text class="fr" text-anchor="middle" x="469.8" y="783.8">2</text>
<text class="fr" text-anchor="middle" x="469.8" y="802.9">4</text>
<text class="s" x="546.7" y="861.6">2</text>
<text class="s" text-anchor="end" x="386.6" y="874.8">3</text>
</svg>
</div>
</main>
<aside>
<div class="ln" style="left:649.1px;top:68px;width:2px;height:928px"></div>
<div class="ln" style="left:652.6px;top:68px;width:1.2px;height:928px"></div>
<span id="rep" class="t" style="left:688.4px;top:73.01px;font-size:18.67px;font-weight:700;color:#000;transform:scaleX(0.9601);letter-spacing:1.6px;">Réponses</span>
<div class="ln" style="left:687.3px;top:89px;width:99.4px;height:1px"></div>
<div class="ans">
<div class="ln" style="left:683px;top:138px;width:109px;height:1px"></div>
<span id="al0" class="t" style="left:660.5px;top:125.21px;font-size:12px;font-weight:400;color:#000;">Ex.</span>
<span id="a0w" class="t" style="left:700.6px;top:117.6px;font-size:17.3px;font-weight:700;color:#00a800;transform:scaleX(1.0502);">36</span>
<span id="a0u" class="t" style="left:725.8px;top:115.61px;font-size:10px;font-weight:700;color:#00a800;transform:scaleX(1.0966);">2</span>
<span id="a0s" class="t" style="left:733.1px;top:117.51px;font-size:18.5px;font-weight:700;color:#00a800;transform:skewX(-8deg);transform-origin:50% 70%;">/</span>
<span id="a0l" class="t" style="left:738.5px;top:128.02px;font-size:10px;font-weight:700;color:#00a800;transform:scaleX(1.2225);">3</span>
<span id="a0c" class="t" style="left:749px;top:117.6px;font-size:17.3px;font-weight:700;color:#00a800;transform:scaleX(1.0006);">cm</span>
</div>
<div class="ans">
<div class="ln" style="left:683px;top:182px;width:109px;height:1px"></div>
<span id="al1" class="t" style="left:660.5px;top:170.16px;font-size:12px;font-weight:400;color:#000;">1.</span>
<span id="a1w" class="t" style="left:700.6px;top:162.55px;font-size:17.3px;font-weight:700;color:#f00;transform:scaleX(1.0502);">50</span>
<span id="a1u" class="t" style="left:725.8px;top:160.56px;font-size:10px;font-weight:700;color:#f00;transform:scaleX(1.0966);">2</span>
<span id="a1s" class="t" style="left:733.1px;top:162.46px;font-size:18.5px;font-weight:700;color:#f00;transform:skewX(-8deg);transform-origin:50% 70%;">/</span>
<span id="a1l" class="t" style="left:738.5px;top:172.97px;font-size:10px;font-weight:700;color:#f00;transform:scaleX(1.2225);">5</span>
<span id="a1c" class="t" style="left:749px;top:162.55px;font-size:17.3px;font-weight:700;color:#f00;transform:scaleX(1.0006);">cm</span>
</div>
<div class="ans">
<div class="ln" style="left:683px;top:227px;width:109px;height:1px"></div>
<span id="al2" class="t" style="left:660.5px;top:215.1px;font-size:12px;font-weight:400;color:#000;">2.</span>
<span id="a2w" class="t" style="left:700.6px;top:207.5px;font-size:17.3px;font-weight:700;color:#f00;transform:scaleX(1.0502);">93</span>
<span id="a2u" class="t" style="left:725.8px;top:205.52px;font-size:10px;font-weight:700;color:#f00;transform:scaleX(1.0966);">1</span>
<span id="a2s" class="t" style="left:733.1px;top:207.41px;font-size:18.5px;font-weight:700;color:#f00;transform:skewX(-8deg);transform-origin:50% 70%;">/</span>
<span id="a2l" class="t" style="left:738.5px;top:217.9px;font-size:10px;font-weight:700;color:#f00;transform:scaleX(1.2225);">3</span>
<span id="a2c" class="t" style="left:749px;top:207.5px;font-size:17.3px;font-weight:700;color:#f00;transform:scaleX(1.0006);">cm</span>
</div>
<div class="ans">
<div class="ln" style="left:683px;top:272px;width:109px;height:1px"></div>
<span id="al3" class="t" style="left:660.5px;top:260.07px;font-size:12px;font-weight:400;color:#000;">3.</span>
<span id="a3w" class="t" style="left:700.6px;top:252.46px;font-size:17.3px;font-weight:700;color:#f00;transform:scaleX(1.0502);">37</span>
<span id="a3u" class="t" style="left:725.8px;top:250.45px;font-size:10px;font-weight:700;color:#f00;transform:scaleX(1.0966);">1</span>
<span id="a3s" class="t" style="left:733.1px;top:252.35px;font-size:18.5px;font-weight:700;color:#f00;transform:skewX(-8deg);transform-origin:50% 70%;">/</span>
<span id="a3l" class="t" style="left:738.5px;top:262.86px;font-size:10px;font-weight:700;color:#f00;transform:scaleX(1.2225);">3</span>
<span id="a3c" class="t" style="left:749px;top:252.46px;font-size:17.3px;font-weight:700;color:#f00;transform:scaleX(1.0006);">cm</span>
</div>
<div class="ans">
<div class="ln" style="left:683px;top:317px;width:109px;height:1px"></div>
<span id="al4" class="t" style="left:660.5px;top:305.01px;font-size:12px;font-weight:400;color:#000;">4.</span>
<span id="a4w" class="t" style="left:700.6px;top:297.41px;font-size:17.3px;font-weight:700;color:#f00;transform:scaleX(1.0502);">34</span>
<span id="a4u" class="t" style="left:725.8px;top:295.4px;font-size:10px;font-weight:700;color:#f00;transform:scaleX(1.0966);">2</span>
<span id="a4s" class="t" style="left:733.1px;top:297.31px;font-size:18.5px;font-weight:700;color:#f00;transform:skewX(-8deg);transform-origin:50% 70%;">/</span>
<span id="a4l" class="t" style="left:738.5px;top:307.81px;font-size:10px;font-weight:700;color:#f00;transform:scaleX(1.2225);">3</span>
<span id="a4c" class="t" style="left:749px;top:297.41px;font-size:17.3px;font-weight:700;color:#f00;transform:scaleX(1.0006);">cm</span>
</div>
<div class="ans">
<div class="ln" style="left:683px;top:362px;width:109px;height:1px"></div>
<span id="al5" class="t" style="left:660.5px;top:349.96px;font-size:12px;font-weight:400;color:#000;">5.</span>
<span id="a5w" class="t" style="left:700.6px;top:342.35px;font-size:17.3px;font-weight:700;color:#f00;transform:scaleX(1.0502);">45</span>
<span id="a5u" class="t" style="left:725.8px;top:340.36px;font-size:10px;font-weight:700;color:#f00;transform:scaleX(1.0966);">1</span>
<span id="a5s" class="t" style="left:733.1px;top:342.26px;font-size:18.5px;font-weight:700;color:#f00;transform:skewX(-8deg);transform-origin:50% 70%;">/</span>
<span id="a5l" class="t" style="left:738.5px;top:352.75px;font-size:10px;font-weight:700;color:#f00;transform:scaleX(1.2225);">3</span>
<span id="a5c" class="t" style="left:749px;top:342.35px;font-size:17.3px;font-weight:700;color:#f00;transform:scaleX(1.0006);">cm</span>
</div>
<div class="ans">
<div class="ln" style="left:683px;top:407px;width:109px;height:1px"></div>
<span id="al6" class="t" style="left:660.5px;top:394.91px;font-size:12px;font-weight:400;color:#000;">6.</span>
<span id="a6w" class="t" style="left:708.4px;top:384.31px;font-size:21.33px;font-weight:700;color:#f00;transform:scaleX(0.9722);">44 cm</span>
</div>
<div class="ans">
<div class="ln" style="left:683px;top:452px;width:109px;height:1px"></div>
<span id="al7" class="t" style="left:660.5px;top:439.85px;font-size:12px;font-weight:400;color:#000;">7.</span>
<span id="a7w" class="t" style="left:708.4px;top:429.26px;font-size:21.33px;font-weight:700;color:#f00;transform:scaleX(0.9722);">33 cm</span>
</div>
</aside>
<footer>
<div class="ln" style="left:24px;top:994.6px;width:768px;height:2px"></div>
<div class="ln" style="left:24px;top:995px;width:143.5px;height:35.8px"></div>
<div style="position:absolute;left:27px;top:999px;width:138px;height:29px;border-radius:14.5px;background:#fff"></div>
<span id="math" class="t" style="left:34px;top:1005px;font-size:17.33px;font-weight:700;color:#000;transform:scaleX(0.9830);">Mathématiques</span>
<span id="url" class="t" style="left:175px;top:1014.51px;font-size:15px;font-weight:400;color:#000;transform:scaleX(0.9776);">www.CommonCoreSheets.fr</span>
<span id="pg" class="t" style="left:435.2px;top:996.9px;font-size:30.5px;font-weight:400;color:#000;clip-path:polygon(0 0,17.0px 0,17.0px 22.7px,11.1px 22.7px,11.1px 30.5px,7.2px 30.5px,7.2px 22.7px,0 22.7px);">1</span>
<span id="rng" class="t" style="left:605.8px;top:999.11px;font-size:12.4px;font-weight:400;color:#000;transform:scaleX(0.9374);">1-7</span>
<div class="sc" style="left:632px;width:23.71px;background:#fff">86</div>
<div class="sc" style="left:654.71px;width:23.71px;background:#fff">71</div>
<div class="sc" style="left:677.42px;width:23.71px;background:#fff">57</div>
<div class="sc" style="left:700.13px;width:23.71px;background:#fff">43</div>
<div class="sc" style="left:722.84px;width:23.71px;background:#fff">29</div>
<div class="sc" style="left:745.55px;width:23.71px;background:#cadcff">14</div>
<div class="sc" style="left:768.26px;width:23.71px;background:#cadcff">0</div>
<div class="ln" style="left:24px;top:994.6px;width:768px;height:2px"></div>
</footer>
</body>
</html>
